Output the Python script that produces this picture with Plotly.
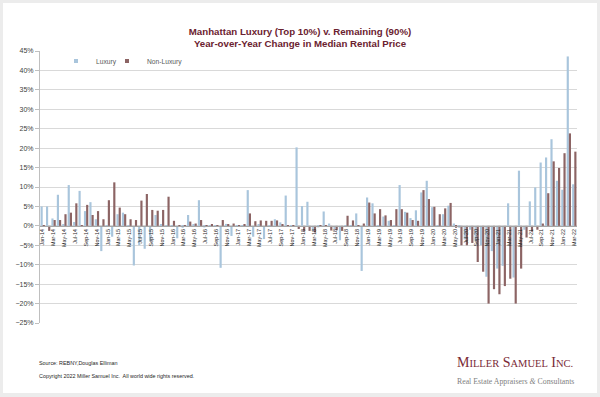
import plotly.graph_objects as go

months = ["Jan", "Feb", "Mar", "Apr", "May", "Jun", "Jul", "Aug", "Sep", "Oct", "Nov", "Dec"]
categories = [f"{m}-{y:02d}" for y in range(14, 23) for m in months][:99]
tick_labels = categories[::2]

luxury = [5.0, 5.0, 1.9, 8.0, 0.3, 10.5, 1.0, 9.0, 3.8, 6.1, 1.7, -6.5,
          0.2, -2.8, 3.0, 3.4, 0.2, -10.2, -5.0, -5.9, -4.0, 2.8, 0.3, 0.2,
          0.2, -3.2, -0.5, 2.8, 0.3, 6.6, -0.4, 0.2, 0.1, -10.8, 0.5, -2.6,
          0.2, -0.3, 9.2, -2.8, 0.3, -3.4, 0.2, 1.7, 0.9, 7.8, -0.3, 20.2,
          5.1, 6.2, -1.3, -0.4, 3.7, 0.6, -0.8, -3.7, 0.2, 0.1, 3.2, -11.6,
          7.3, 5.8, 0.2, 2.4, 1.3, 0.2, 10.5, 3.6, 2.0, 4.0, 8.6, 11.6,
          4.8, 0.2, 3.0, 5.2, 0.6, -0.5, -3.5, -1.0, -3.9, -5.0, -13.1, -6.5,
          -11.0, -10.3, 5.8, -13.3, 14.2, -1.0, 6.3, 9.9, 16.3, 17.6, 22.3, 11.6,
          9.3, 43.6, 10.7]

non_luxury = [0.2, -1.3, 1.5, 1.5, 3.0, 3.4, 5.8, 0.2, 5.4, 2.8, 3.8, 1.7,
              6.6, 11.2, 4.7, 3.0, 1.7, 1.5, 6.5, 8.2, 4.1, 3.9, 4.1, 7.5,
              1.3, 0.1, 0.2, 1.1, 0.6, 1.5, -0.2, 0.3, 0.1, 1.5, 0.3, 0.6,
              0.2, 0.3, 3.2, 1.2, 1.4, 1.3, 1.3, 1.4, 0.3, 0.2, -0.3, -0.8,
              -1.4, -1.3, -1.7, -0.3, 0.2, -1.2, -1.1, -1.3, 2.6, 1.4, 0.2, 0.6,
              6.0, 3.2, 4.3, 2.7, 1.5, 4.3, 4.3, 3.4, 1.5, 1.3, 9.2, 6.9,
              4.9, 3.0, 4.5, 5.9, -0.5, -5.0, -5.0, -4.4, -9.3, -11.8, -20.0, -16.3,
              -17.6, -15.5, -13.6, -20.0, -11.0, -3.0, -1.5, -1.0, 0.6, 8.4, 16.6, 14.9,
              18.7, 23.8, 19.1]

y_min, y_max = -25, 45

W_PX, H_PX = 600, 397
L, R, T, B = 40, 23, 51, 74
PW, PH = W_PX - L - R, H_PX - T - B


def px_x(px):
    return (px - L) / PW


def px_y(py):
    return (H_PX - B - py) / PH


LUX_COLOR = "#a9c5dc"
NON_COLOR = "#8c6464"
FONT = "Liberation Sans, Arial, sans-serif"
SERIF = "Liberation Serif, Times New Roman, serif"

fig = go.Figure()
fig.add_trace(go.Bar(x=categories, y=luxury, name="Luxury", marker_color=LUX_COLOR,
                     marker_line_width=0, showlegend=False))
fig.add_trace(go.Bar(x=categories, y=non_luxury, name="Non-Luxury", marker_color=NON_COLOR,
                     marker_line_width=0, showlegend=False))
# legend entries (small square keys like the original)
fig.add_trace(go.Scatter(x=[None], y=[None], mode="markers", name="Luxury", legend="legend",
                         marker=dict(symbol="square", size=4, color=LUX_COLOR)))
fig.add_trace(go.Scatter(x=[None], y=[None], mode="markers", name="Non-Luxury", legend="legend2",
                         marker=dict(symbol="square", size=4, color=NON_COLOR)))

zero_pos = (0 - y_min) / (y_max - y_min)
legend_font = dict(size=6.7, color="#595959", family=FONT)

fig.update_layout(
    width=W_PX, height=H_PX,
    margin=dict(l=L, r=R, t=T, b=B, pad=0),
    paper_bgcolor="#ececec",
    plot_bgcolor="rgba(0,0,0,0)",
    barmode="group", bargap=0.2, bargroupgap=0,
    font=dict(family=FONT, color="#404040"),
    title=dict(
        text="<b>Manhattan Luxury (Top 10%) v. Remaining (90%)<br>Year-over-Year Change in Median Rental Price</b>",
        x=0.5, xanchor="center", y=1 - 34.5 / H_PX, yanchor="middle",
        font=dict(size=9.7, color="#6b2230", family=FONT),
    ),
    xaxis=dict(
        type="category", categoryorder="array", categoryarray=categories,
        range=[-0.5, len(categories) - 0.5],
        anchor="free", position=zero_pos,
        showgrid=False, zeroline=False,
        showline=True, linecolor="#a6a6a6", linewidth=1,
        ticks="", tickmode="array", tickvals=tick_labels, ticktext=tick_labels,
        tickangle=-90, tickfont=dict(size=5.4, color="#262626", family=FONT),
    ),
    yaxis=dict(
        range=[y_min, y_max], dtick=5, ticksuffix="%",
        showgrid=True, gridcolor="#d9d9d9", gridwidth=1,
        zeroline=False, showline=True, linecolor="#bfbfbf", linewidth=1,
        ticks="outside", ticklen=4, tickcolor="#bfbfbf",
        tickfont=dict(size=7, color="#404040", family=FONT),
    ),
    legend=dict(
        orientation="h", x=px_x(56), y=px_y(61), xanchor="left", yanchor="middle",
        font=legend_font, bgcolor="rgba(0,0,0,0)", itemwidth=30,
    ),
    legend2=dict(
        orientation="h", x=px_x(107), y=px_y(61), xanchor="left", yanchor="middle",
        font=legend_font, bgcolor="rgba(0,0,0,0)", itemwidth=30,
    ),
    shapes=[dict(type="rect", xref="paper", yref="paper",
                 x0=px_x(3), x1=px_x(597), y0=px_y(393), y1=px_y(3),
                 fillcolor="white", line=dict(width=0), layer="below")],
    annotations=[
        dict(text="Source: REBNY,Douglas Elliman", xref="paper", yref="paper",
             x=px_x(37), y=px_y(363), xanchor="left", yanchor="middle", showarrow=False,
             font=dict(size=5.4, color="#262626", family=FONT)),
        dict(text="Copyright 2022 Miller Samuel Inc.  All world wide rights reserved.",
             xref="paper", yref="paper",
             x=px_x(37), y=px_y(376), xanchor="left", yanchor="middle", showarrow=False,
             font=dict(size=5.4, color="#262626", family=FONT)),
        dict(text="M<span style='font-size:10.5px'>ILLER</span> S<span style='font-size:10.5px'>AMUEL</span> I<span style='font-size:10.5px'>NC.</span>",
             xref="paper", yref="paper",
             x=px_x(515), y=px_y(362), xanchor="center", yanchor="middle", showarrow=False,
             font=dict(size=14, color="#7a2a36", family=SERIF)),
        dict(text="Real Estate Appraisers <i>&</i> Consultants",
             xref="paper", yref="paper",
             x=px_x(515), y=px_y(381), xanchor="center", yanchor="middle", showarrow=False,
             font=dict(size=7.8, color="#808080", family=SERIF)),
    ],
)

fig.write_html("out.html", config={"displayModeBar": False},
               post_script="document.body.style.margin='0';")
